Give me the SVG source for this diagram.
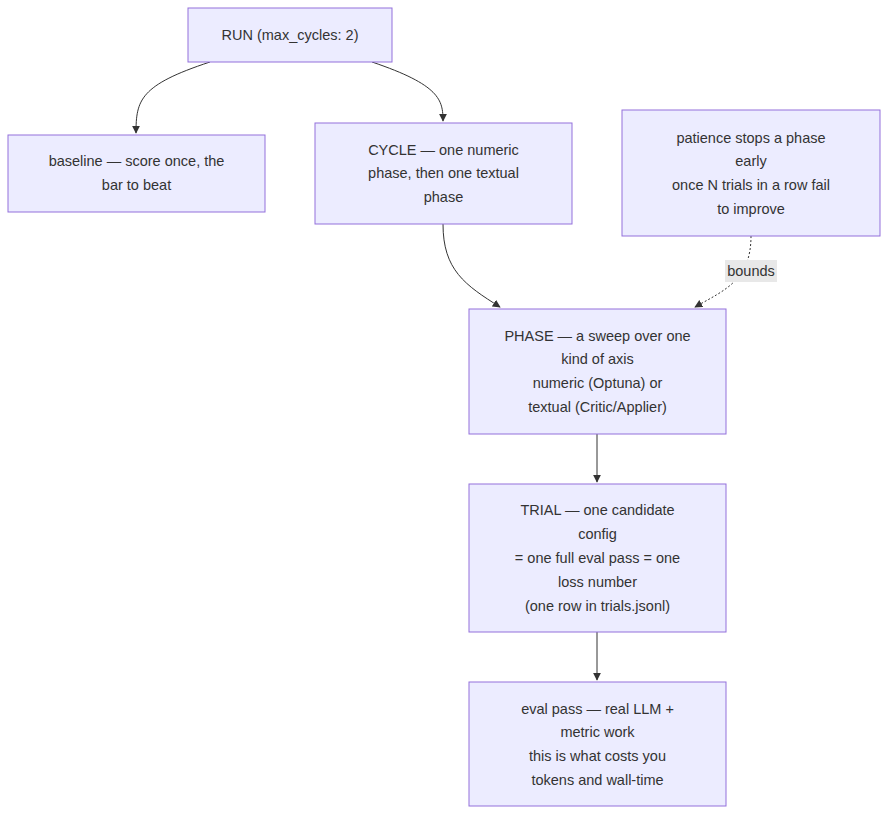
<svg xmlns="http://www.w3.org/2000/svg" width="896" height="822" viewBox="0 0 896 822">
<style>
.n rect{fill:#ececff;stroke:#9370db;stroke-width:1}
text{font-family:"Liberation Sans",Arial,sans-serif;font-size:14.5px;fill:#333;text-anchor:middle}
.e{fill:none;stroke:#333;stroke-width:1}
.d{stroke-dasharray:2 2}
</style>
<defs><marker id="a" viewBox="0 0 10 10" refX="9" refY="5" markerWidth="8" markerHeight="8" orient="auto"><path d="M0,0L10,5L0,10z" fill="#333"/></marker></defs>
<rect width="896" height="822" fill="#fff"/>
<g id="edges">
<path class="e" d="M210,62 C140,85 136,100 136,133" marker-end="url(#a)"/>
<path class="e" d="M372,62 C440,85 443,100 443,121" marker-end="url(#a)"/>
<path class="e" d="M443,224 C443,270 465,285 500,307" marker-end="url(#a)"/>
<path class="e d" d="M751,236 C751,280 725,290 695,307" marker-end="url(#a)"/>
<path class="e" d="M597,434 L597,482" marker-end="url(#a)"/>
<path class="e" d="M597,632 L597,680" marker-end="url(#a)"/>
<rect x="725" y="260" width="52" height="22" fill="#e8e8e8"/>
<text x="751" y="276">bounds</text>
</g>
<g id="run" class="n"><rect x="188" y="8" width="204" height="54"/><text x="290" y="40">RUN (max_cycles: 2)</text></g>
<g id="baseline" class="n"><rect x="8" y="135" width="257" height="77"/><text x="136.5" y="166">baseline — score once, the</text><text x="136.5" y="190">bar to beat</text></g>
<g id="cycle" class="n"><rect x="315" y="123" width="257" height="101"/><text x="443.5" y="155">CYCLE — one numeric</text><text x="443.5" y="178">phase, then one textual</text><text x="443.5" y="202">phase</text></g>
<g id="patience" class="n"><rect x="622" y="110" width="258" height="126"/><text x="751" y="143">patience stops a phase</text><text x="751" y="166">early</text><text x="751" y="190">once N trials in a row fail</text><text x="751" y="214">to improve</text></g>
<g id="phase" class="n"><rect x="469" y="309" width="257" height="125"/><text x="597.5" y="341">PHASE — a sweep over one</text><text x="597.5" y="364">kind of axis</text><text x="597.5" y="388">numeric (Optuna) or</text><text x="597.5" y="412">textual (Critic/Applier)</text></g>
<g id="trial" class="n"><rect x="469" y="484" width="257" height="148"/><text x="597.5" y="515">TRIAL — one candidate</text><text x="597.5" y="539">config</text><text x="597.5" y="563">= one full eval pass = one</text><text x="597.5" y="587">loss number</text><text x="597.5" y="611">(one row in trials.jsonl)</text></g>
<g id="eval" class="n"><rect x="469" y="682" width="257" height="124"/><text x="597.5" y="714">eval pass — real LLM +</text><text x="597.5" y="737">metric work</text><text x="597.5" y="761">this is what costs you</text><text x="597.5" y="785">tokens and wall-time</text></g>
</svg>
